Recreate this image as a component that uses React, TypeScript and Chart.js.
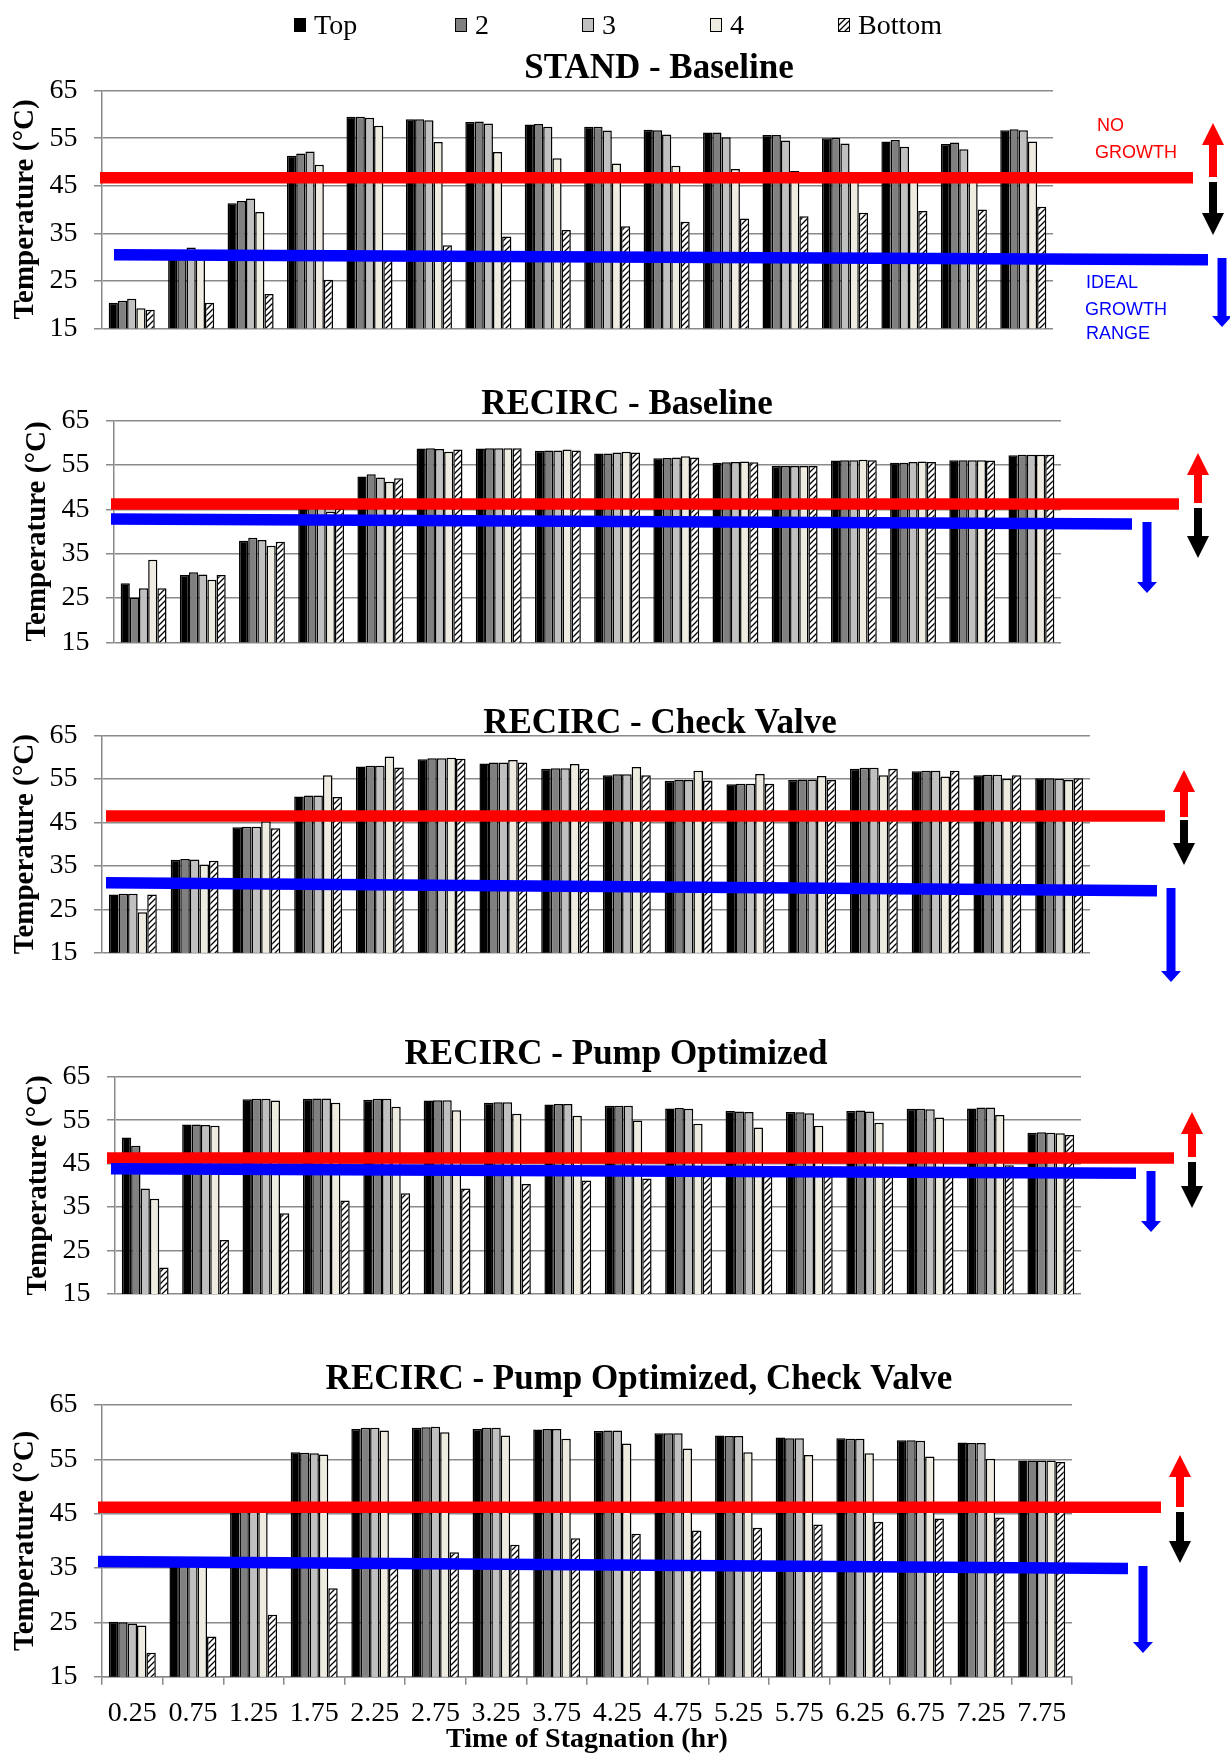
import React, { useEffect, useRef } from 'react';
import { Chart, registerables } from 'chart.js';

Chart.register(...registerables);

// ---------- data ----------
const TIME_LABELS = ['0.25', '0.75', '1.25', '1.75', '2.25', '2.75', '3.25', '3.75', '4.25', '4.75', '5.25', '5.75', '6.25', '6.75', '7.25', '7.75'];
const SERIES_LABELS = ['Top', '2', '3', '4', 'Bottom'];
const PANEL_TITLES = ['STAND - Baseline', 'RECIRC - Baseline', 'RECIRC - Check Valve', 'RECIRC - Pump Optimized', 'RECIRC - Pump Optimized, Check Valve'];
const Y_MIN = 15;
const Y_MAX = 65;
const Y_STEP = 10;

// STAND - Baseline
const standTop = [20.4, 30.5, 41.3, 51.3, 59.5, 59.0, 58.4, 57.9, 57.4, 56.8, 56.2, 55.7, 55.0, 54.3, 53.8, 56.7];
const stand2 = [20.8, 31.2, 41.8, 51.8, 59.5, 59.0, 58.5, 58.0, 57.4, 56.7, 56.2, 55.7, 55.1, 54.6, 54.1, 56.9];
const stand3 = [21.2, 32.0, 42.3, 52.2, 59.3, 58.8, 58.1, 57.4, 56.6, 55.8, 55.2, 54.5, 53.9, 53.2, 52.7, 56.7];
const stand4 = [19.2, 30.0, 39.5, 49.4, 57.6, 54.2, 52.1, 50.8, 49.7, 49.2, 48.5, 48.1, 47.5, 47.0, 46.6, 54.3];
const standBottom = [18.9, 20.4, 22.2, 25.2, 30.3, 32.5, 34.3, 35.7, 36.5, 37.4, 38.1, 38.6, 39.3, 39.7, 40.0, 40.6];

// RECIRC - Baseline
const recircTop = [28.3, 30.2, 37.9, 45.5, 52.4, 58.7, 58.7, 58.2, 57.6, 56.5, 55.5, 54.8, 56.0, 55.5, 56.1, 57.2];
const recirc2 = [25.1, 30.8, 38.6, 45.8, 52.9, 58.8, 58.8, 58.3, 57.6, 56.6, 55.6, 54.8, 56.1, 55.5, 56.1, 57.3];
const recirc3 = [27.2, 30.3, 38.1, 45.6, 52.2, 58.6, 58.8, 58.3, 57.8, 56.7, 55.7, 54.8, 56.1, 55.7, 56.1, 57.3];
const recirc4 = [33.6, 29.1, 36.8, 44.5, 51.2, 58.0, 58.8, 58.5, 58.0, 57.0, 55.8, 54.8, 56.2, 55.8, 56.1, 57.3];
const recircBottom = [27.2, 30.2, 37.7, 45.2, 52.0, 58.5, 58.8, 58.3, 57.8, 56.7, 55.6, 54.8, 56.1, 55.7, 56.0, 57.3];

// RECIRC - Check Valve
const checkTop = [28.4, 36.4, 43.9, 51.0, 57.9, 59.6, 58.6, 57.4, 55.9, 54.6, 53.8, 54.8, 57.4, 56.8, 55.9, 55.2];
const check2 = [28.6, 36.6, 44.0, 51.2, 58.1, 59.8, 58.8, 57.5, 56.1, 54.8, 53.9, 54.9, 57.6, 56.9, 56.0, 55.2];
const check3 = [28.6, 36.5, 44.0, 51.2, 58.1, 59.8, 58.8, 57.5, 56.1, 54.8, 53.9, 54.9, 57.6, 56.9, 56.0, 55.1];
const check4 = [24.3, 35.3, 45.3, 55.9, 60.2, 59.9, 59.4, 58.5, 57.8, 56.9, 56.2, 55.7, 55.9, 55.6, 55.1, 54.8];
const checkBottom = [28.4, 36.2, 43.7, 50.9, 57.7, 59.7, 58.8, 57.4, 55.9, 54.7, 53.9, 54.8, 57.4, 56.9, 55.9, 55.2];

// RECIRC - Pump Optimized
const pumpTop = [51.0, 54.0, 59.8, 59.9, 59.7, 59.5, 59.0, 58.6, 58.3, 57.7, 57.1, 56.9, 57.1, 57.6, 57.7, 52.1];
const pump2 = [49.1, 54.0, 59.9, 60.0, 59.9, 59.6, 59.1, 58.7, 58.3, 57.8, 57.0, 56.8, 57.2, 57.6, 57.9, 52.2];
const pump3 = [39.3, 53.9, 59.9, 60.0, 59.9, 59.6, 59.1, 58.7, 58.3, 57.6, 56.9, 56.6, 57.0, 57.5, 57.9, 52.1];
const pump4 = [36.9, 53.7, 59.5, 59.0, 58.1, 57.3, 56.5, 56.0, 54.9, 54.2, 53.3, 53.7, 54.4, 55.6, 56.2, 52.0];
const pumpBottom = [21.1, 27.4, 33.6, 36.5, 38.2, 39.3, 40.3, 41.1, 41.6, 42.2, 42.7, 43.1, 43.5, 44.0, 44.6, 51.6];

// RECIRC - Pump Optimized, Check Valve
const pumpCheckTop = [25.1, 36.0, 46.0, 56.3, 60.6, 60.8, 60.6, 60.5, 60.2, 59.8, 59.4, 59.0, 58.9, 58.5, 58.1, 54.8];
const pumpCheck2 = [25.0, 36.0, 46.1, 56.2, 60.8, 60.9, 60.8, 60.6, 60.3, 59.8, 59.3, 58.9, 58.8, 58.5, 58.0, 54.8];
const pumpCheck3 = [24.8, 35.8, 46.0, 56.1, 60.8, 61.0, 60.8, 60.6, 60.3, 59.8, 59.3, 58.9, 58.8, 58.4, 58.0, 54.8];
const pumpCheck4 = [24.4, 35.6, 45.8, 55.9, 60.3, 60.0, 59.4, 58.8, 57.9, 57.0, 56.3, 55.8, 56.1, 55.5, 55.1, 54.8];
const pumpCheckBottom = [19.4, 22.4, 26.4, 31.3, 35.8, 37.9, 39.3, 40.5, 41.3, 41.9, 42.4, 43.0, 43.5, 44.1, 44.3, 54.5];

// threshold bands (°C)
const NO_GROWTH_LIMIT = [46.7, 46.2, 46.5, 46.3, 46.2];
const IDEAL_LIMIT_START = [30.5, 42.8, 31.1, 43.8, 36.2];
const IDEAL_LIMIT_END = [29.4, 41.7, 29.3, 42.8, 34.9];

const PANEL_SERIES = [
  [standTop, stand2, stand3, stand4, standBottom],
  [recircTop, recirc2, recirc3, recirc4, recircBottom],
  [checkTop, check2, check3, check4, checkBottom],
  [pumpTop, pump2, pump3, pump4, pumpBottom],
  [pumpCheckTop, pumpCheck2, pumpCheck3, pumpCheck4, pumpCheckBottom],
];

// ---------- layout / style ----------
const SERIF = "'Liberation Serif', 'Times New Roman', serif";
const SANS = "'Liberation Sans', Arial, sans-serif";
const GRID = '#8a8a8a';
const SOLID_FILLS = ['#000000', '#808080', '#c0c0c0', '#eeece1'];

type Arrow = { x: number; from: number; to: number };
type Layout = {
  top: number; height: number; plotTop: number; plotBottom: number; left: number; right: number;
  titleX: number; titleY: number; yTitlePad: number;
  redX: [number, number]; blueX: [number, number];
  up: Arrow; down: Arrow; blue: Arrow;
  xAxis: boolean; legend: boolean; notes: boolean;
};

const LAYOUTS: Layout[] = [
  { top: 0, height: 372, plotTop: 90.7, plotBottom: 328.3, left: 102, right: 1053, titleX: 659, titleY: 68.5, yTitlePad: 8.6,
    redX: [100, 1193], blueX: [114, 1208], up: { x: 1213, from: 177, to: 123 }, down: { x: 1213, from: 182, to: 235 }, blue: { x: 1222, from: 258, to: 327 },
    xAxis: false, legend: true, notes: true },
  { top: 340, height: 345, plotTop: 80.7, plotBottom: 302.3, left: 114, right: 1061, titleX: 627, titleY: 64.5, yTitlePad: 20,
    redX: [111, 1179], blueX: [111, 1132], up: { x: 1198, from: 163, to: 113 }, down: { x: 1198, from: 168, to: 218 }, blue: { x: 1147, from: 182, to: 253 },
    xAxis: false, legend: false, notes: false },
  { top: 670, height: 330, plotTop: 65.7, plotBottom: 282.7, left: 102, right: 1090, titleX: 660, titleY: 53.5, yTitlePad: 8,
    redX: [106, 1165], blueX: [106, 1157], up: { x: 1184, from: 147, to: 100 }, down: { x: 1184, from: 150, to: 195 }, blue: { x: 1171, from: 218, to: 312 },
    xAxis: false, legend: false, notes: false },
  { top: 1000, height: 340, plotTop: 76.7, plotBottom: 294, left: 115, right: 1081, titleX: 616, titleY: 54.5, yTitlePad: 21.6,
    redX: [107, 1174], blueX: [111, 1136], up: { x: 1192, from: 157, to: 112 }, down: { x: 1192, from: 162, to: 208 }, blue: { x: 1151, from: 171, to: 232 },
    xAxis: false, legend: false, notes: false },
  { top: 1330, height: 424, plotTop: 75, plotBottom: 346.7, left: 102, right: 1072, titleX: 639, titleY: 49.5, yTitlePad: 8.6,
    redX: [98, 1161], blueX: [98, 1128], up: { x: 1180, from: 177, to: 125 }, down: { x: 1180, from: 182, to: 233 }, blue: { x: 1143, from: 236, to: 323 },
    xAxis: true, legend: false, notes: false },
];

const LEGEND_BOX_X = [294, 455, 582, 710, 838];

function makeHatch(): CanvasPattern | string {
  const c = document.createElement('canvas');
  c.width = 6;
  c.height = 6;
  const g = c.getContext('2d');
  if (!g) return '#ffffff';
  g.fillStyle = '#ffffff';
  g.fillRect(0, 0, 6, 6);
  g.strokeStyle = '#000000';
  g.lineWidth = 1.3;
  g.beginPath();
  g.moveTo(-1, 7);
  g.lineTo(7, -1);
  g.moveTo(-1, 1);
  g.lineTo(1, -1);
  g.moveTo(5, 7);
  g.lineTo(7, 5);
  g.stroke();
  return g.createPattern(c, 'repeat') || '#ffffff';
}

function drawArrow(ctx: CanvasRenderingContext2D, a: Arrow, color: string, shaft: number, headW: number, headL: number) {
  const dir = Math.sign(a.to - a.from);
  const base = a.to - dir * headL;
  ctx.fillStyle = color;
  ctx.beginPath();
  ctx.moveTo(a.x - shaft / 2, a.from);
  ctx.lineTo(a.x + shaft / 2, a.from);
  ctx.lineTo(a.x + shaft / 2, base);
  ctx.lineTo(a.x + headW / 2, base);
  ctx.lineTo(a.x, a.to);
  ctx.lineTo(a.x - headW / 2, base);
  ctx.lineTo(a.x - shaft / 2, base);
  ctx.closePath();
  ctx.fill();
}

function Panel({ index }: { index: number }) {
  const ref = useRef<HTMLCanvasElement>(null);
  const L = LAYOUTS[index];

  useEffect(() => {
    const canvas = ref.current;
    if (!canvas) return;
    const hatch = makeHatch();
    const fills: (string | CanvasPattern)[] = [...SOLID_FILLS, hatch];

    const overlay = {
      id: 'overlay' + index,
      afterDraw(chart: any) {
        const ctx: CanvasRenderingContext2D = chart.ctx;
        const ys = chart.scales.y;
        ctx.save();
        // panel title
        ctx.fillStyle = '#000';
        ctx.font = `bold 35px ${SERIF}`;
        ctx.textAlign = 'center';
        ctx.textBaseline = 'middle';
        ctx.fillText(PANEL_TITLES[index], L.titleX, L.titleY);

        // legend
        if (L.legend) {
          ctx.font = `28px ${SERIF}`;
          ctx.textAlign = 'left';
          SERIES_LABELS.forEach((name, i) => {
            const bx = LEGEND_BOX_X[i];
            ctx.fillStyle = fills[i] as any;
            ctx.fillRect(bx, 18, 12, 14);
            ctx.strokeStyle = '#000';
            ctx.lineWidth = 1;
            ctx.strokeRect(bx + 0.5, 18.5, 11, 13);
            ctx.fillStyle = '#000';
            ctx.fillText(name, bx + 20, 26.5);
          });
        }

        // threshold lines
        const ry = ys.getPixelForValue(NO_GROWTH_LIMIT[index]);
        ctx.lineCap = 'butt';
        ctx.lineWidth = 11.5;
        ctx.strokeStyle = '#ff0000';
        ctx.beginPath();
        ctx.moveTo(L.redX[0], ry);
        ctx.lineTo(L.redX[1], ry);
        ctx.stroke();
        ctx.strokeStyle = '#0000ff';
        ctx.beginPath();
        ctx.moveTo(L.blueX[0], ys.getPixelForValue(IDEAL_LIMIT_START[index]));
        ctx.lineTo(L.blueX[1], ys.getPixelForValue(IDEAL_LIMIT_END[index]));
        ctx.stroke();

        // arrows
        drawArrow(ctx, L.up, '#ff0000', 8, 22, 22);
        drawArrow(ctx, L.down, '#000000', 8, 22, 22);
        drawArrow(ctx, L.blue, '#0000ff', 9, 20, 11);

        // notes
        if (L.notes) {
          ctx.font = `18px ${SANS}`;
          ctx.textAlign = 'left';
          ctx.textBaseline = 'middle';
          ctx.fillStyle = '#ff0000';
          ctx.fillText('NO', 1097, 126);
          ctx.fillText('GROWTH', 1095, 153);
          ctx.fillStyle = '#0000ff';
          ctx.fillText('IDEAL', 1086, 283);
          ctx.fillText('GROWTH', 1085, 310);
          ctx.fillText('RANGE', 1086, 334);
        }
        ctx.restore();
      },
    };

    const datasets = PANEL_SERIES[index].map((values, i) => ({
      label: SERIES_LABELS[i],
      data: values,
      backgroundColor: fills[i],
      borderColor: '#000000',
      borderWidth: 1.5,
      categoryPercentage: 0.775,
      barPercentage: 1.0,
    }));

    const xScale: any = L.xAxis
      ? {
          display: true,
          offset: true,
          grid: { display: true, drawOnChartArea: false, drawTicks: true, tickLength: 8, offset: true, color: GRID, lineWidth: 1.5 },
          border: { display: true, color: GRID, width: 1.5 },
          ticks: { font: { family: SERIF, size: 28 }, color: '#000', padding: 12, maxRotation: 0, autoSkip: false },
          title: { display: true, text: 'Time of Stagnation (hr)', color: '#000', font: { family: SERIF, size: 28, weight: 'bold', lineHeight: 1.0 }, padding: { top: 0, bottom: 0 } },
          afterFit: (s: any) => { s.height = L.height - L.plotBottom; },
        }
      : { display: false, offset: true };

    const chart = new Chart(canvas, {
      type: 'bar',
      data: { labels: TIME_LABELS, datasets: datasets as any },
      options: {
        animation: false,
        responsive: false,
        maintainAspectRatio: false,
        events: [],
        layout: {
          padding: {
            top: L.plotTop,
            left: 0,
            right: 1230 - L.right,
            bottom: L.xAxis ? 0 : L.height - L.plotBottom,
          },
        },
        plugins: { legend: { display: false }, title: { display: false }, tooltip: { enabled: false } },
        scales: {
          x: xScale,
          y: {
            min: Y_MIN,
            max: Y_MAX,
            ticks: { stepSize: Y_STEP, font: { family: SERIF, size: 28 }, color: '#000', padding: 16.5 },
            grid: { color: GRID, lineWidth: 1.5, drawTicks: true, tickLength: 8 },
            border: { display: true, color: GRID, width: 1.5 },
            title: { display: true, text: 'Temperature (°C)', color: '#000', font: { family: SERIF, size: 29, weight: 'bold' }, padding: { top: L.yTitlePad, bottom: 0 } },
            afterFit: (s: any) => { s.width = L.left; },
          },
        },
      } as any,
      plugins: [overlay],
    });
    return () => chart.destroy();
  }, [index]);

  return (
    <canvas
      ref={ref}
      width={1230}
      height={L.height}
      style={{ position: 'absolute', left: 0, top: L.top, width: 1230, height: L.height, display: 'block' }}
    />
  );
}

export default function App() {
  return (
    <div style={{ position: 'absolute', left: 0, top: 0, width: 1230, height: 1754, background: '#ffffff' }}>
      {LAYOUTS.map((_, i) => (
        <Panel key={i} index={i} />
      ))}
    </div>
  );
}
